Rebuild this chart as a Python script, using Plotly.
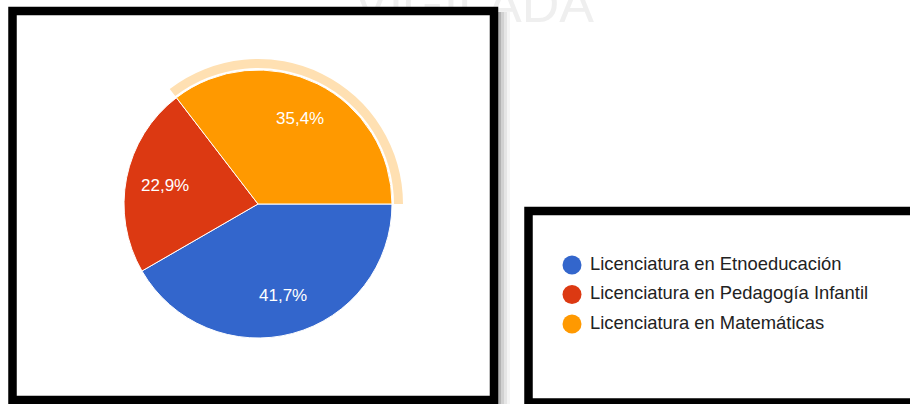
import math
import plotly.graph_objects as go

# ---- data ----
categories = ["Licenciatura en Etnoeducación",
              "Licenciatura en Pedagogía Infantil",
              "Licenciatura en Matemáticas"]
counts = [20, 11, 17]
colors = ["#3366CC", "#DC3912", "#FF9900"]
highlighted = "Licenciatura en Matemáticas"
watermark = "VIGILADA"

W, H = 910, 404
FONT = "Liberation Sans, Arial, sans-serif"

# pie geometry (pixels)
cx, cy, r = 258, 204, 134
r_ring_out = 145
ring_gap = 2
start_deg = 90          # first slice starts at 3 o'clock, clockwise
label_frac = 0.71

def dom(cx, cy, rr):
    return dict(x=[(cx - rr) / W, (cx + rr) / W],
                y=[(H - cy - rr) / H, (H - cy + rr) / H])

fig = go.Figure()

# watermark (behind the box)
fig.add_trace(go.Scatter(x=[474], y=[9], mode="text", text=[watermark],
                         textposition="middle center",
                         textfont=dict(family=FONT, size=52, color="#efefef"),
                         hoverinfo="skip", showlegend=False))

# shadow to the right of the chart box
for i, op in enumerate([0.30, 0.18, 0.10, 0.04]):
    fig.add_shape(type="rect", xref="x", yref="y",
                  x0=498 + 3 * i, x1=501 + 3 * i, y0=12, y1=404,
                  fillcolor=f"rgba(0,0,0,{op})", line_width=0, layer="below")

# white interior of the chart box (covers watermark)
fig.add_trace(go.Scatter(x=[8, 498, 498, 8, 8], y=[7, 7, 404, 404, 7],
                         fill="toself", fillcolor="white", mode="lines",
                         line=dict(width=0, color="white"),
                         hoverinfo="skip", showlegend=False))

# highlight ring on hovered slice
ring_colors = ["#FFE0B2" if c == highlighted else "rgba(0,0,0,0)" for c in categories]
fig.add_trace(go.Pie(labels=categories, values=counts, sort=False,
                     direction="clockwise", rotation=start_deg,
                     hole=(r + ring_gap) / r_ring_out,
                     marker=dict(colors=ring_colors, line=dict(width=0)),
                     textinfo="none", hoverinfo="skip", showlegend=False,
                     domain=dom(cx, cy, r_ring_out)))

# main pie
fig.add_trace(go.Pie(labels=categories, values=counts, sort=False,
                     direction="clockwise", rotation=start_deg,
                     marker=dict(colors=colors, line=dict(color="white", width=1)),
                     textinfo="none",
                     showlegend=False, domain=dom(cx, cy, r)))

# percentage labels placed on each slice's mid-angle (annotations sit above the pie)
total = sum(counts)
acc = 0
for v in counts:
    mid = math.radians(start_deg + (acc + v / 2) / total * 360)
    fig.add_annotation(x=cx + label_frac * r * math.sin(mid),
                       y=cy - label_frac * r * math.cos(mid),
                       xref="x", yref="y", showarrow=False,
                       text=f"{v / total * 100:.1f}%".replace(".", ","),
                       font=dict(family=FONT, size=17, color="white"))
    acc += v

# custom legend with circle markers
lx, ly0, ldy = 572, 265, 29.5
ys = [ly0 + i * ldy for i in range(len(categories))]
fig.add_trace(go.Scatter(x=[lx] * len(categories), y=ys, mode="markers",
                         marker=dict(size=19, color=colors, line=dict(width=0)),
                         hoverinfo="skip", showlegend=False))
fig.add_trace(go.Scatter(x=[lx + 18] * len(categories), y=ys, mode="text",
                         text=categories, textposition="middle right",
                         textfont=dict(family=FONT, size=18.4, color="#222222"),
                         hoverinfo="skip", showlegend=False))

# black frames
fig.add_shape(type="rect", xref="x", yref="y", x0=12.5, x1=494, y0=11, y1=400,
              line=dict(color="black", width=8.5), fillcolor="rgba(0,0,0,0)")
fig.add_shape(type="rect", xref="x", yref="y", x0=528.5, x1=920, y0=211, y1=402.5,
              line=dict(color="black", width=8.5), fillcolor="rgba(0,0,0,0)")

fig.update_layout(
    width=W, height=H,
    margin=dict(l=0, r=0, t=0, b=0),
    paper_bgcolor="white", plot_bgcolor="white",
    xaxis=dict(visible=False, range=[0, W], fixedrange=True),
    yaxis=dict(visible=False, range=[H, 0], fixedrange=True),
    showlegend=False,
)

fig.write_html("out.html", config={"displayModeBar": False},
               post_script="document.body.style.margin='0';document.body.style.overflow='hidden';")
